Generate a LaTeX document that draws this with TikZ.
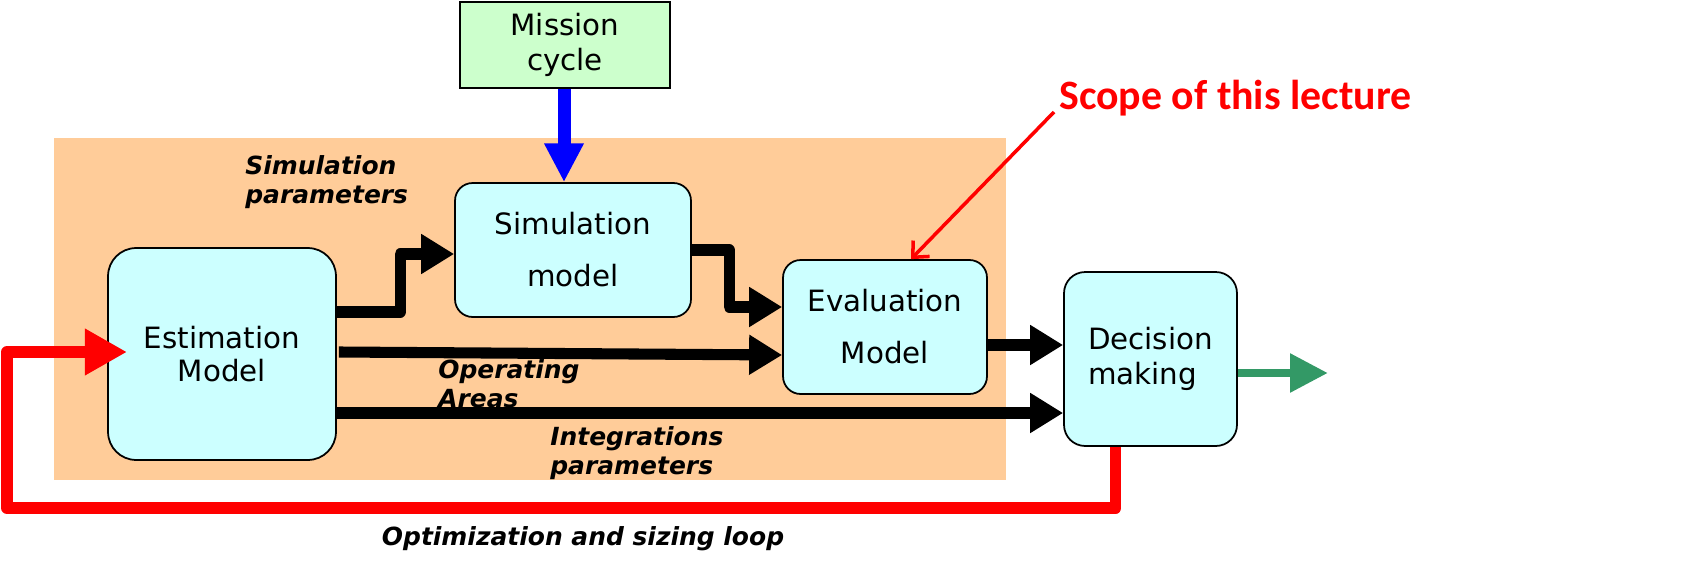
\documentclass[tikz,border=0pt]{standalone}
\usepackage{fontspec}
\setmainfont{DejaVu Sans}
\newfontfamily\scopefont{Carlito}
\usepackage{xcolor}
\usepackage{tikz}
\usetikzlibrary{arrows.meta,calc,positioning}
\definecolor{orangebg}{HTML}{FFCC99}
\definecolor{boxcyan}{HTML}{CCFFFF}
\definecolor{boxgreen}{HTML}{CCFFCC}
\definecolor{outgreen}{HTML}{339966}
\newcommand{\boxtxt}[1]{\fontsize{16.7}{#1}\selectfont}
\newcommand{\lbltxt}{\fontsize{14.2}{16.5}\selectfont\bfseries\itshape}

\begin{document}
\begin{tikzpicture}[x=0.02cm,y=-0.02cm,
  mbox/.style={draw,line width=1pt,fill=boxcyan,align=center,inner sep=0pt,rounded corners=#1},
  mbox/.default=9pt,
  conn/.style={line width=6.3pt,line join=round,-{Triangle[length=18.8pt,width=21.6pt]}},
  lbl/.style={font=\lbltxt,align=left,inner sep=0pt,anchor=west}]
  \useasboundingbox (0,0) rectangle (1700,568);
  \fill[orangebg] (54,138) rectangle (1006,480);
  \node[mbox=16pt,minimum width=228*0.569pt,minimum height=212*0.569pt,font=\boxtxt{18.8}] (est) at (222,354) {Estimation\\Model};
  \node[mbox=10pt,minimum width=236*0.569pt,minimum height=134*0.569pt,font=\boxtxt{29.6}] (sim) at (573,250) {Simulation\\model};
  \node[mbox=10pt,minimum width=204*0.569pt,minimum height=134*0.569pt,font=\boxtxt{29.6}] (eval) at (885,327) {Evaluation\\Model};
  \node[mbox=12pt,minimum width=173*0.569pt,minimum height=174*0.569pt,font=\boxtxt{19.9},align=left] (dec) at (1150.5,359) {Decision\\making};
  \node[draw,line width=1pt,fill=boxgreen,align=center,inner sep=0pt,minimum width=210*0.569pt,minimum height=86*0.569pt,font=\boxtxt{19.9}] (mission) at (565,45) {Mission\\cycle};
  \node[font=\scopefont\fontsize{23.8}{27}\selectfont\bfseries,text=red,anchor=west,inner sep=0pt] (scope) at (1059,98) {Scope of this lecture};
  % labels
  \node[lbl] (simpar) at (245,182) {Simulation\\parameters};
  \node[lbl] (oparea) at (438,384) {Operating\\Areas};
  \node[lbl] (intpar) at (550,453) {Integrations\\parameters};
  \node[font=\lbltxt,inner sep=0pt] (optloop) at (583,539) {Optimization and sizing loop};
  \coordinate (esttip) at (127,352);
  \coordinate (out) at (1328,373);
  % connectors
  \draw[blue,line width=7.4pt,-{Triangle[length=22pt,width=21pt]}] ($(mission.south)+(-1,0)$) -- ($(mission.south|-sim.north)+(-1,0)$);
  \draw[conn] ($(est.east)+(0,-42)$) -| ($(sim.west)+(-54,4)$) -- ($(sim.west)+(0,4)$);
  \draw[conn] (sim.east) -| ($(eval.west)+(-53,-20)$) -- ($(eval.west)+(0,-20)$);
  \draw[conn] ($(est.east)+(2,-2)$) -- ($(eval.west)+(0,28)$);
  \draw[conn] ($(eval.east)+(0,18)$) -- ($(dec.west)+(0,-14)$);
  \draw[conn] ($(est.east)+(0,59)$) -- ($(dec.west)+(0,54)$);
  \draw[outgreen,line width=5pt,-{Triangle[length=21.6pt,width=21pt]}] ($(dec.east)+(0,14)$) -- (out);
  \draw[red,line width=6.8pt,line join=round,-{Triangle[length=24pt,width=25pt]}] ($(dec.south)+(-35,0)$) |- (7,508) |- (esttip);
  \draw[red,line width=2pt,-{Straight Barb[length=7pt,width=13pt]}] ($(scope.west)+(-5,14)$) -- ($(eval.north)+(26,0)$);
\end{tikzpicture}
\end{document}
